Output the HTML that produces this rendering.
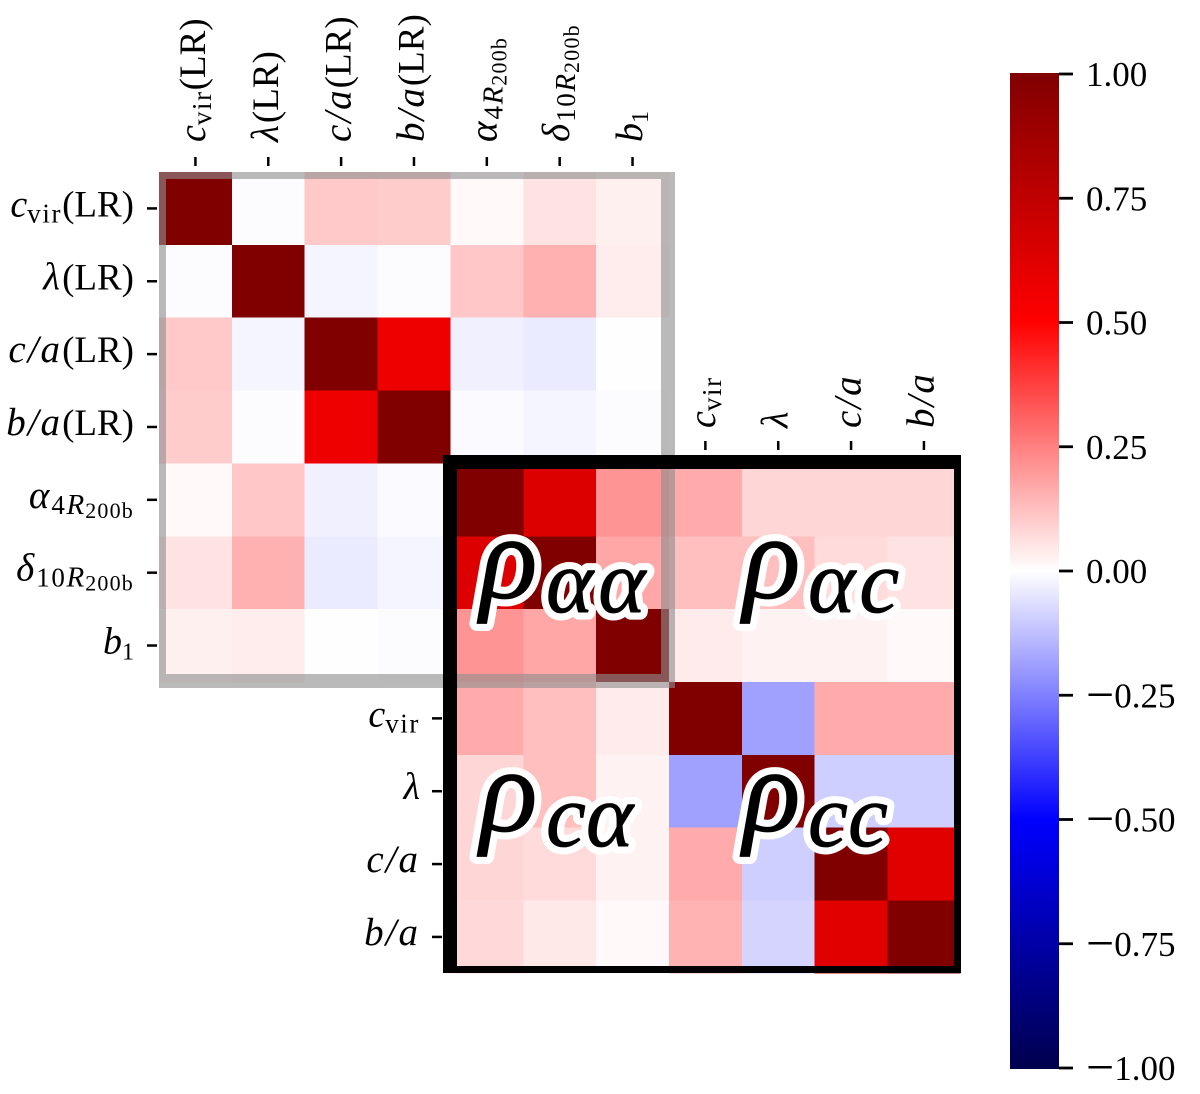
<!DOCTYPE html>
<html lang="en">
<head>
<meta charset="utf-8">
<title>Correlation matrix</title>
<style>
html,body{margin:0;padding:0;background:#fff;}
svg{display:block;}
text{font-family:"Liberation Serif","DejaVu Serif",serif;fill:#000;}
.rho{font-style:italic;stroke-linejoin:round;stroke-linecap:round;}
.halo{fill:#fff;stroke:#fff;stroke-width:15px;}
.ink{fill:#000;stroke:#000;stroke-width:0.8px;}
</style>
</head>
<body>
<svg id="chart" width="1200" height="1094" viewBox="0 0 1200 1094" xmlns="http://www.w3.org/2000/svg">
  <defs>
    <clipPath id="axes-clip"><rect x="159" y="172" width="802" height="801"/></clipPath>
    <linearGradient id="seismic" x1="0" y1="1" x2="0" y2="0">
      <stop offset="0" stop-color="#00004d"/>
      <stop offset="0.25" stop-color="#0000ff"/>
      <stop offset="0.5" stop-color="#ffffff"/>
      <stop offset="0.75" stop-color="#ff0000"/>
      <stop offset="1" stop-color="#800000"/>
    </linearGradient>
  </defs>
  <g id="cells" shape-rendering="crispEdges"></g>
  <g clip-path="url(#axes-clip)">
    <rect x="159" y="172" width="509" height="509" fill="none" stroke="#8f8f8f" stroke-opacity="0.61" stroke-width="14"/>
    <rect x="450" y="462" width="511" height="511" fill="none" stroke="#000" stroke-width="14"/>
  </g>
  <g id="axis-ticks"></g>
  <g id="axis-labels"></g>
  <g id="colorbar">
    <rect x="1010" y="73" width="49" height="996" fill="url(#seismic)"/>
  </g>

  <g>
    <text class="rho halo" x="480" y="598" font-size="120">ρ<tspan x="546" font-size="90" dy="14" letter-spacing="5">αα</tspan></text>
    <text class="rho ink" x="480" y="598" font-size="120">ρ<tspan x="546" font-size="90" dy="14" letter-spacing="5">αα</tspan></text>
  </g>
  <g>
    <text class="rho halo" x="743" y="598" font-size="120">ρ<tspan x="808" font-size="90" dy="14" letter-spacing="4">αc</tspan></text>
    <text class="rho ink" x="743" y="598" font-size="120">ρ<tspan x="808" font-size="90" dy="14" letter-spacing="4">αc</tspan></text>
  </g>
  <g>
    <text class="rho halo" x="480" y="831" font-size="120">ρ<tspan x="546" font-size="90" dy="15">cα</tspan></text>
    <text class="rho ink" x="480" y="831" font-size="120">ρ<tspan x="546" font-size="90" dy="15">cα</tspan></text>
  </g>
  <g>
    <text class="rho halo" x="743" y="831" font-size="120">ρ<tspan x="808" font-size="90" dy="15">cc</tspan></text>
    <text class="rho ink" x="743" y="831" font-size="120">ρ<tspan x="808" font-size="90" dy="15">cc</tspan></text>
  </g>
</svg>
<script>
// Data (null = masked cell)
const rowCvirLR  = [1, -0.005, 0.105, 0.1, 0.012, 0.055, 0.03, null, null, null, null];
const rowLambdaLR = [-0.005, 1, -0.02, -0.005, 0.11, 0.155, 0.035, null, null, null, null];
const rowCaLR    = [0.105, -0.02, 1, 0.567, -0.03, -0.04, -0.002, null, null, null, null];
const rowBaLR    = [0.1, -0.005, 0.567, 1, -0.01, -0.02, -0.005, null, null, null, null];
const rowAlpha   = [0.012, 0.11, -0.03, -0.01, 1, 0.633, 0.21, 0.165, 0.08, 0.08, 0.08];
const rowDelta   = [0.055, 0.155, -0.04, -0.02, 0.633, 1, 0.175, 0.125, 0.125, 0.07, 0.055];
const rowB1      = [0.03, 0.035, -0.002, -0.005, 0.21, 0.175, 1, 0.04, 0.025, 0.025, 0.012];
const rowCvir    = [null, null, null, null, 0.165, 0.125, 0.04, 1, -0.186, 0.165, 0.165];
const rowLambda  = [null, null, null, null, 0.08, 0.125, 0.025, -0.186, 1, -0.094, -0.094];
const rowCa      = [null, null, null, null, 0.08, 0.07, 0.025, 0.165, -0.094, 1, 0.62];
const rowBa      = [null, null, null, null, 0.075, 0.045, 0.012, 0.15, -0.085, 0.62, 1];
const matrixRows = [rowCvirLR, rowLambdaLR, rowCaLR, rowBaLR, rowAlpha, rowDelta, rowB1, rowCvir, rowLambda, rowCa, rowBa];

const labelCvirLR = [['c','i'],['vir','sr'],['(LR)','r']];
const labelLambdaLR = [['λ','iw'],['(LR)','r']];
const labelCaLR = [['c/a','iw'],['(LR)','r']];
const labelBaLR = [['b/a','iw'],['(LR)','r']];
const labelAlpha = [['α','iw'],['4','sr'],['R','si'],['200b','ss']];
const labelDelta = [['δ','iw'],['10','sr'],['R','si'],['200b','ss']];
const labelB1 = [['b','i'],['1','n']];
const labelCvir = [['c','i'],['vir','sr']];
const labelLambda = [['λ','i']];
const labelCa = [['c/a','iw']];
const labelBa = [['b/a','iw']];
const categoryLabels = [labelCvirLR, labelLambdaLR, labelCaLR, labelBaLR, labelAlpha, labelDelta, labelB1, labelCvir, labelLambda, labelCa, labelBa];

const colorbarTicks = [1, 0.75, 0.5, 0.25, 0, -0.25, -0.5, -0.75, -1];
const colorbarTickLabels = ['1.00', '0.75', '0.50', '0.25', '0.00', '−0.25', '−0.50', '−0.75', '−1.00'];

const NS = 'http://www.w3.org/2000/svg';
const AX_X0 = 159, AX_Y0 = 172, CELL = 72.85;
const xEdge = i => AX_X0 + i * CELL;
const yEdge = i => AX_Y0 + i * CELL;
const xMid = i => xEdge(i + 0.5);
const yMid = i => yEdge(i + 0.5);
const cbarY = v => 571 - v * 497;

function lerp(a, b, t) { return a + (b - a) * t; }
function seismic(v) {
  const anchors = [[0,0,77],[0,0,255],[255,255,255],[255,0,0],[128,0,0]];
  const p = Math.max(0, Math.min(1, (v + 1) / 2)) * 4;
  const i = Math.min(3, Math.floor(p));
  const t = p - i;
  const c = [0,1,2].map(k => Math.round(lerp(anchors[i][k], anchors[i + 1][k], t)));
  return 'rgb(' + c.join(',') + ')';
}

const styles = {
  r:  {size: 37, off: 0, italic: false, ls: 0},
  i:  {size: 38, off: 0, italic: true, ls: 0},
  iw: {size: 39, off: 0, italic: true, ls: 2},
  n:  {size: 24, off: 6, italic: false, ls: 0},
  sr: {size: 27, off: 6, italic: false, ls: 1.6},
  si: {size: 29, off: 6, italic: true, ls: 1},
  ss: {size: 22, off: 10, italic: false, ls: 1.2}
};

function fillLabel(textEl, segs) {
  let cur = 0;
  segs.forEach(seg => {
    const st = styles[seg[1]];
    const ts = document.createElementNS(NS, 'tspan');
    ts.textContent = seg[0];
    ts.setAttribute('font-size', st.size);
    ts.setAttribute('font-style', st.italic ? 'italic' : 'normal');
    if (st.ls) ts.setAttribute('letter-spacing', st.ls);
    ts.setAttribute('dy', st.off - cur);
    cur = st.off;
    textEl.appendChild(ts);
  });
}

const cellsG = document.getElementById('cells');
matrixRows.forEach((row, r) => {
  row.forEach((v, c) => {
    if (v === null) return;
    const el = document.createElementNS(NS, 'rect');
    
    
    el.setAttribute('x', xEdge(c));
    el.setAttribute('y', yEdge(r));
    el.setAttribute('width', CELL + 0.3);
    el.setAttribute('height', CELL + 0.3);
    el.setAttribute('fill', seismic(v));
    cellsG.appendChild(el);
  });
});

const ticksG = document.getElementById('axis-ticks');
const labelsG = document.getElementById('axis-labels');
function tick(parent, x1, y1, x2, y2, w) {
  const el = document.createElementNS(NS, 'line');
  
  
  el.setAttribute('x1', x1);
  el.setAttribute('y1', y1);
  el.setAttribute('x2', x2);
  el.setAttribute('y2', y2);
  el.setAttribute('stroke', '#000');
  el.setAttribute('stroke-width', w);
  parent.appendChild(el);
}

categoryLabels.forEach((segs, i) => {
  const lr = i < 7;
  // column (top) axis
  const cx = xMid(i);
  tick(ticksG, cx, lr ? 157 : 441, cx, lr ? 166 : 450, 2.5);
  const topBase = lr ? 142 : 428;
  const tx = document.createElementNS(NS, 'text');
  
  
  tx.setAttribute('x', cx + 9.5);
  tx.setAttribute('y', topBase);
  tx.setAttribute('transform', 'rotate(-90 ' + (cx + 9.5) + ' ' + topBase + ')');
  fillLabel(tx, segs);
  labelsG.appendChild(tx);
  // row (left) axis
  const cy = yMid(i);
  tick(ticksG, lr ? 147 : 432, cy, lr ? 157 : 442, cy, 2.5);
  const ty = document.createElementNS(NS, 'text');
  
  
  ty.setAttribute('x', lr ? 134 : 420);
  ty.setAttribute('y', cy + 8);
  ty.setAttribute('text-anchor', 'end');
  fillLabel(ty, segs);
  labelsG.appendChild(ty);
});

const cbarG = document.getElementById('colorbar');
colorbarTicks.forEach((v, i) => {
  const y = cbarY(v);
  tick(cbarG, 1059, y, 1073, y, 2.8);
  const t = document.createElementNS(NS, 'text');
  
  
  t.setAttribute('x', 1086);
  t.setAttribute('y', y + 12);
  t.setAttribute('font-size', 35);
  const txt = colorbarTickLabels[i];
  if (txt.charAt(0) === '−') {
    const m = document.createElementNS(NS, 'tspan');
    m.setAttribute('font-size', '50');
    m.setAttribute('dy', '4.2');
    m.textContent = '−';
    t.appendChild(m);
    const d = document.createElementNS(NS, 'tspan');
    d.setAttribute('dy', '-4.2');
    d.textContent = txt.slice(1);
    t.appendChild(d);
  } else {
    t.textContent = txt;
  }
  cbarG.appendChild(t);
});
</script>
</body>
</html>
